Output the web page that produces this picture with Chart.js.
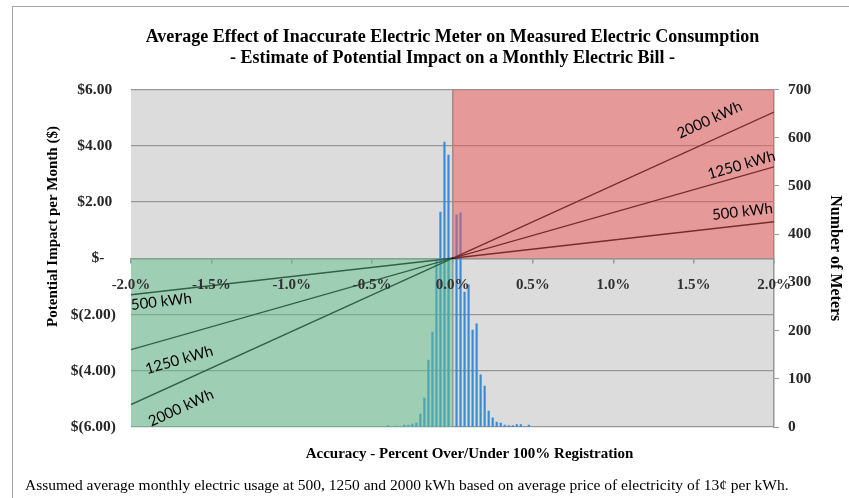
<!DOCTYPE html>
<html>
<head>
<meta charset="utf-8">
<title>Average Effect of Inaccurate Electric Meter on Measured Electric Consumption</title>
<script src="https://cdn.jsdelivr.net/npm/chart.js@4/dist/chart.umd.min.js"></script>
<style>
  html, body { margin: 0; padding: 0; background: #fff; }
  #wrap { position: relative; width: 849px; height: 498px; overflow: hidden; }
  #frame {
    position: absolute; left: 12px; top: 6px; width: 900px; height: 600px;
    border: 1.5px solid #a6a6a6;
  }
  #chart { position: absolute; left: 0; top: 0; }
  #note {
    position: absolute; left: 25px; top: 476px; white-space: nowrap;
    font: 15.5px/18px "Liberation Serif", serif; color: #000;
  }
</style>
</head>
<body>
<div id="wrap">
  <div id="frame"></div>
  <canvas id="chart" width="849" height="498"></canvas>
  <div id="note">Assumed average monthly electric usage at 500, 1250 and 2000 kWh based on average price of electricity of 13¢ per kWh.</div>
</div>
<script>
"use strict";

// ── Data ──────────────────────────────────────────────────────────────
// accuracy bins (% over/under) and number of meters in each bin
const accuracyBins = [
  -0.400, -0.375, -0.350, -0.325, -0.300, -0.275, -0.250, -0.225,
  -0.200, -0.175, -0.150, -0.125, -0.100, -0.075, -0.050, -0.025,
   0.025,  0.050,  0.075,  0.100,  0.125,  0.150,  0.175,  0.200,
   0.225,  0.250,  0.275,  0.300,  0.325,  0.350,  0.375,  0.400,
   0.425,  0.475,
];
const meterCounts = [
    3,   0,   2,   0,   4,   4,   6,   8,
   27,  60, 139, 197, 346, 446, 591, 564,
  440, 444, 280, 295, 201, 214, 108,  85,
   33,  19,  10,   8,   4,   3,   3,   5,
    5,   4,
];

// monthly bill impact ($) at -2% and +2% accuracy
const accuracyEnds = [-2, 2];
const impact500  = [-1.30, 1.30];
const impact1250 = [-3.25, 3.25];
const impact2000 = [-5.20, 5.20];

// shaded zones: over-billing (top right) and under-billing (bottom left)
const overZoneX  = [0, 2];
const underZoneX = [-2, 0];
const impactMax  = 6;

const xTicks = [-2, -1.5, -1, -0.5, 0, 0.5, 1, 1.5, 2];

// ── Style ─────────────────────────────────────────────────────────────
const GRID   = "#969696";
const TEXT   = "#262626";
const BLUE   = "#3a8ad6";
const RED_OV = "rgba(238, 86, 86, 0.5)";
const GRN_OV = "rgba(96, 192, 140, 0.5)";
const SERIF  = "'Liberation Serif', 'Times New Roman', serif";

Chart.defaults.font.family = SERIF;
Chart.defaults.font.size = 15;
Chart.defaults.color = TEXT;

const pts = (xs, ys) => xs.map((x, i) => ({ x, y: ys[i] }));

const money = v => {
  if (v > 0) return "$" + v.toFixed(2) + " ";
  if (v < 0) return "$(" + (-v).toFixed(2) + ")";
  return "$-   ";
};

const kwhLine = (data) => ({
  type: "line",
  data,
  borderColor: "#000",
  borderWidth: 1.4,
  pointRadius: 0,
  fill: false,
  order: 2,
});

const zone = (data, color) => ({
  type: "line",
  data,
  borderWidth: 0,
  pointRadius: 0,
  backgroundColor: color,
  fill: "origin",
  order: 1,
});

// ── Plugins ───────────────────────────────────────────────────────────
const plotBackground = {
  id: "plotBackground",
  beforeDraw(chart) {
    const { ctx, chartArea: a } = chart;
    ctx.save();
    ctx.fillStyle = "#dcdcdc";
    ctx.fillRect(a.left, a.top, a.width, a.height);
    ctx.restore();
  },
};

// "500 kWh" etc. written along each line
const lineLabels = {
  id: "lineLabels",
  afterDatasetsDraw(chart, args, opts) {
    const { ctx, scales: { x, y } } = chart;
    ctx.save();
    ctx.font = "15px Lato, 'Open Sans', sans-serif";
    ctx.fillStyle = "#000";
    ctx.textAlign = "center";
    ctx.textBaseline = "middle";
    opts.items.forEach(it => {
      const ends = it.values;
      const ang = Math.atan2(
        y.getPixelForValue(ends[1]) - y.getPixelForValue(ends[0]),
        x.getPixelForValue(accuracyEnds[1]) - x.getPixelForValue(accuracyEnds[0]));
      ctx.save();
      ctx.translate(x.getPixelForValue(it.at[0]), y.getPixelForValue(it.at[1]));
      ctx.rotate(ang);
      ctx.fillText(it.text, 0, 0);
      ctx.restore();
    });
    ctx.restore();
  },
};

// axis titles sit off-centre in the original, so place them by hand
const axisTitles = {
  id: "axisTitles",
  afterDraw(chart, args, opts) {
    const { ctx, chartArea: a } = chart;
    ctx.save();
    ctx.fillStyle = "#000";
    ctx.textAlign = "center";
    ctx.textBaseline = "middle";
    opts.items.forEach(it => {
      ctx.save();
      ctx.font = "bold " + it.size + "px " + SERIF;
      ctx.translate(a.left + it.dx, a.top + it.dy);
      ctx.rotate(it.rot || 0);
      ctx.fillText(it.text, 0, 0);
      ctx.restore();
    });
    ctx.restore();
  },
};

// ── Chart ─────────────────────────────────────────────────────────────
new Chart(document.getElementById("chart"), {
  type: "bar",
  data: {
    datasets: [
      {
        type: "bar",
        label: "Number of Meters",
        data: pts(accuracyBins, meterCounts),
        yAxisID: "y2",
        backgroundColor: BLUE,
        barThickness: 1.5,
        order: 3,
      },
      kwhLine(pts(accuracyEnds, impact500)),
      kwhLine(pts(accuracyEnds, impact1250)),
      kwhLine(pts(accuracyEnds, impact2000)),
      zone(pts(overZoneX, overZoneX.map(() => impactMax)), RED_OV),
      zone(pts(underZoneX, underZoneX.map(() => -impactMax)), GRN_OV),
    ],
  },
  plugins: [plotBackground, lineLabels, axisTitles],
  options: {
    responsive: false,
    animation: false,
    events: [],
    layout: { padding: { left: 38, right: 0, top: 0, bottom: 71 } },
    plugins: {
      legend: { display: false },
      tooltip: { enabled: false },
      title: {
        display: true,
        fullSize: false,
        text: [
          "Average Effect of Inaccurate Electric Meter on Measured Electric Consumption",
          "- Estimate of Potential Impact on a Monthly Electric Bill -",
        ],
        color: "#000",
        font: { size: 18, weight: "bold", lineHeight: 1.17 },
        padding: { top: 26.5, bottom: 20.9 },
      },
      lineLabels: {
        items: [
          { text: "2000 kWh", at: [1.60, 4.92],   values: impact2000 },
          { text: "1250 kWh", at: [1.797, 3.31],  values: impact1250 },
          { text: "500 kWh",  at: [1.804, 1.657], values: impact500 },
          { text: "500 kWh",  at: [-1.811, -1.543], values: impact500 },
          { text: "1250 kWh", at: [-1.70, -3.617],  values: impact1250 },
          { text: "2000 kWh", at: [-1.689, -5.32],  values: impact2000 },
        ],
      },
      axisTitles: {
        items: [
          { text: "Potential Impact per Month ($)", size: 15, dx: -78, dy: 137, rot: -Math.PI / 2 },
          { text: "Accuracy - Percent Over/Under 100% Registration", size: 15, dx: 338.5, dy: 364.5 },
        ],
      },
    },
    scales: {
      x: {
        type: "linear",
        position: { y: 0 },
        min: -2, max: 2,
        offset: false,
        afterBuildTicks: s => { s.ticks = xTicks.map(value => ({ value })); },
        ticks: {
          z: 1,
          callback: v => v.toFixed(1) + "%",
          font: { size: 15, weight: "bold" },
          color: "#303030",
          padding: 14,
          maxRotation: 0,
          autoSkip: false,
        },
        grid: {
          offset: false,
          color: c => (c.tick && c.tick.value === 0 ? GRID : "transparent"),
          tickColor: GRID,
          tickLength: 4,
          lineWidth: 1.5,
        },
        border: { color: GRID, width: 1.5 },
      },
      y: {
        position: "left",
        min: -6, max: 6,
        ticks: { stepSize: 2, callback: money, font: { size: 15.5, weight: "bold" }, padding: 15 },
        grid: { color: GRID, lineWidth: 1.3, drawTicks: false },
        border: { display: false },
        afterFit: s => { s.width = 93; },
      },
      y2: {
        position: "right",
        min: 0, max: 700,
        ticks: { stepSize: 100, font: { size: 15.5, weight: "bold" }, padding: 9 },
        grid: { drawOnChartArea: false, color: GRID, tickLength: 5 },
        border: { color: GRID, width: 1.5 },
        title: {
          display: true,
          text: "Number of Meters",
          color: "#000",
          font: { size: 16, weight: "bold" },
          padding: { top: 4.4, bottom: 0 },
        },
        afterFit: s => { s.width = 75; },
      },
    },
  },
});
</script>
</body>
</html>
